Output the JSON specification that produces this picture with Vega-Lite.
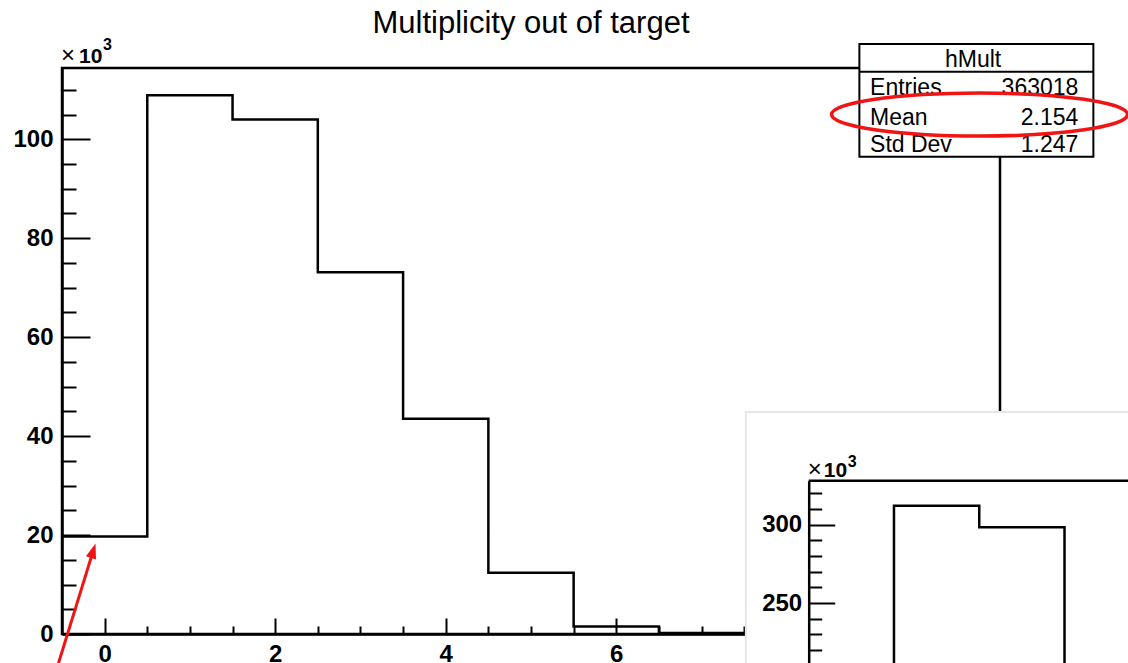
{
  "$schema": "https://vega.github.io/schema/vega-lite/v6.json",
  "width": 938,
  "height": 566,
  "padding": {"left": 62, "top": 68, "right": 128, "bottom": 29},
  "autosize": {"type": "none"},
  "background": "white",
  "title": {"text": "Multiplicity out of target", "font": "Liberation Sans", "fontSize": 31, "fontWeight": "normal", "color": "black", "anchor": "middle", "frame": "group", "offset": -3},
  "config": {"view": {"stroke": "black", "strokeWidth": 2.5}, "font": "Liberation Sans"},
  "datasets": {
    "hMult": [
      {"lo": -0.5, "hi": 0.5, "n": 19700},
      {"lo": 0.5, "hi": 1.5, "n": 108900},
      {"lo": 1.5, "hi": 2.5, "n": 104000},
      {"lo": 2.5, "hi": 3.5, "n": 73100},
      {"lo": 3.5, "hi": 4.5, "n": 43500},
      {"lo": 4.5, "hi": 5.5, "n": 12400},
      {"lo": 5.5, "hi": 6.5, "n": 1500},
      {"lo": 6.5, "hi": 7.5, "n": 200},
      {"lo": 7.5, "hi": 8.5, "n": 20},
      {"lo": 8.5, "hi": 9.5, "n": 2},
      {"lo": 9.5, "hi": 10.5, "n": 0}
    ],
    "hInset": [
      {"lo": -0.5, "hi": 0.5, "n": 56000},
      {"lo": 0.5, "hi": 1.5, "n": 312100},
      {"lo": 1.5, "hi": 2.5, "n": 298300},
      {"lo": 2.5, "hi": 3.5, "n": 208000},
      {"lo": 3.5, "hi": 4.5, "n": 120000},
      {"lo": 4.5, "hi": 5.5, "n": 35000}
    ],
    "stats": [
      {"stat": "Entries", "value": "363018"},
      {"stat": "Mean", "value": "2.154"},
      {"stat": "Std Dev", "value": "1.247"}
    ],
    "exp": [{"times": "×", "base": "10", "power": "3"}]
  },
  "layer": [
    {
      "data": {"name": "hMult"},
      "mark": {"type": "point", "opacity": 0},
      "encoding": {
        "x": {"field": "lo", "type": "quantitative", "scale": {"domain": [-0.5, 10.5], "nice": false, "zero": false},
          "axis": {"orient": "bottom", "title": null, "grid": false, "zindex": 0, "labels": false, "domain": false,
            "values": [0.5, 1, 1.5, 2.5, 3, 3.5, 4.5, 5, 5.5, 6.5, 7, 7.5, 8.5, 9, 9.5],
            "tickSize": -8, "tickColor": "black", "tickWidth": 2}},
        "y": {"field": "n", "type": "quantitative", "scale": {"domain": [0, 114400], "nice": false, "zero": false},
          "axis": {"orient": "left", "title": null, "grid": false, "zindex": 0, "labels": false, "domain": false,
            "values": [5000, 10000, 15000, 25000, 30000, 35000, 45000, 50000, 55000, 65000, 70000, 75000, 85000, 90000, 95000, 105000, 110000],
            "tickSize": -14, "tickColor": "black", "tickWidth": 2}}
      }
    },
    {
      "layer": [
        {
          "data": {"name": "hMult"},
          "transform": [{"fold": ["lo", "hi"], "as": ["side", "edge"]}],
          "mark": {"type": "line", "color": "black", "strokeWidth": 2.5, "strokeJoin": "miter"},
          "encoding": {
            "x": {"field": "edge", "type": "quantitative", "scale": {"domain": [-0.5, 10.5], "nice": false, "zero": false},
              "axis": {"orient": "bottom", "title": null, "grid": false, "zindex": 0,
                "values": [0, 2, 4, 6, 8, 10],
                "labelExpr": "format(datum.value, 'd')",
                "tickSize": -16, "tickColor": "black", "tickWidth": 2, "domainColor": "black", "domainWidth": 2.5,
                "labelFont": "Liberation Sans", "labelFontSize": 24, "labelFontWeight": "bold", "labelColor": "black",
                "labelPadding": 24, "labelFlush": false, "labelOverlap": false}},
            "y": {"field": "n", "type": "quantitative", "scale": {"domain": [0, 114400], "nice": false, "zero": false},
              "axis": {"orient": "left", "title": null, "grid": false, "zindex": 0,
                "values": [0, 20000, 40000, 60000, 80000, 100000],
                "labelExpr": "format(datum.value / 1000, 'd')",
                "tickSize": -28, "tickColor": "black", "tickWidth": 2, "domainColor": "black", "domainWidth": 2.5,
                "labelFont": "Liberation Sans", "labelFontSize": 24, "labelFontWeight": "bold", "labelColor": "black",
                "labelPadding": 37, "labelFlush": false, "labelOverlap": false}},
            "order": [{"field": "edge", "type": "quantitative"}, {"field": "lo", "type": "quantitative"}]
          }
        },
        {
          "data": {"values": [{}]},
          "mark": {"type": "rect", "fill": "white", "stroke": "black", "strokeWidth": 2},
          "encoding": {
            "x": {"datum": 8.851, "type": "quantitative"},
            "x2": {"datum": 11.595},
            "y": {"datum": 119240, "type": "quantitative"},
            "y2": {"datum": 96460}
          }
        },
        {
          "data": {"values": [{}]},
          "mark": {"type": "rule", "stroke": "black", "strokeWidth": 2},
          "encoding": {
            "x": {"datum": 8.851, "type": "quantitative"},
            "x2": {"datum": 11.595},
            "y": {"datum": 113640, "type": "quantitative"}
          }
        },
        {
          "data": {"values": [{"name": "hMult"}]},
          "mark": {"type": "text", "font": "Liberation Sans", "fontSize": 23, "color": "black", "align": "center", "baseline": "alphabetic"},
          "encoding": {
            "x": {"datum": 10.184, "type": "quantitative"},
            "y": {"datum": 114530, "type": "quantitative"},
            "text": {"field": "name"}
          }
        },
        {
          "data": {"name": "stats"},
          "transform": [{"filter": "datum.stat === 'Entries'"}],
          "layer": [
            {"mark": {"type": "text", "font": "Liberation Sans", "fontSize": 23, "color": "black", "align": "left", "baseline": "alphabetic"},
             "encoding": {"x": {"datum": 8.976, "type": "quantitative"}, "y": {"datum": 108850, "type": "quantitative"}, "text": {"field": "stat"}}},
            {"mark": {"type": "text", "font": "Liberation Sans", "fontSize": 23, "color": "black", "align": "right", "baseline": "alphabetic"},
             "encoding": {"x": {"datum": 11.419, "type": "quantitative"}, "y": {"datum": 108850, "type": "quantitative"}, "text": {"field": "value"}}}
          ]
        },
        {
          "data": {"name": "stats"},
          "transform": [{"filter": "datum.stat === 'Mean'"}],
          "layer": [
            {"mark": {"type": "text", "font": "Liberation Sans", "fontSize": 23, "color": "black", "align": "left", "baseline": "alphabetic"},
             "encoding": {"x": {"datum": 8.976, "type": "quantitative"}, "y": {"datum": 102900, "type": "quantitative"}, "text": {"field": "stat"}}},
            {"mark": {"type": "text", "font": "Liberation Sans", "fontSize": 23, "color": "black", "align": "right", "baseline": "alphabetic"},
             "encoding": {"x": {"datum": 11.419, "type": "quantitative"}, "y": {"datum": 102900, "type": "quantitative"}, "text": {"field": "value"}}}
          ]
        },
        {
          "data": {"name": "stats"},
          "transform": [{"filter": "datum.stat === 'Std Dev'"}],
          "layer": [
            {"mark": {"type": "text", "font": "Liberation Sans", "fontSize": 23, "color": "black", "align": "left", "baseline": "alphabetic"},
             "encoding": {"x": {"datum": 8.976, "type": "quantitative"}, "y": {"datum": 97500, "type": "quantitative"}, "text": {"field": "stat"}}},
            {"mark": {"type": "text", "font": "Liberation Sans", "fontSize": 23, "color": "black", "align": "right", "baseline": "alphabetic"},
             "encoding": {"x": {"datum": 11.419, "type": "quantitative"}, "y": {"datum": 97500, "type": "quantitative"}, "text": {"field": "value"}}}
          ]
        },
        {
          "data": {"name": "exp"},
          "encoding": {
            "x": {"datum": -0.5, "type": "quantitative"},
            "y": {"datum": 114400, "type": "quantitative"}
          },
          "layer": [
            {"mark": {"type": "text", "font": "Liberation Sans", "fontSize": 24, "fontWeight": "normal", "color": "black", "align": "left", "baseline": "alphabetic", "dy": -5, "dx": -1},
             "encoding": {"text": {"field": "times"}}},
            {"mark": {"type": "text", "font": "Liberation Sans", "fontSize": 21, "fontWeight": "bold", "color": "black", "align": "left", "baseline": "alphabetic", "dy": -5, "dx": 17},
             "encoding": {"text": {"field": "base"}}},
            {"mark": {"type": "text", "font": "Liberation Sans", "fontSize": 16, "fontWeight": "bold", "color": "black", "align": "left", "baseline": "alphabetic", "dy": -18, "dx": 41},
             "encoding": {"text": {"field": "power"}}}
          ]
        },
        {
          "data": {"values": [{}]},
          "mark": {"type": "point", "shape": "M-1,0C-1,-0.0802,-0.5523,-0.1453,0,-0.1453C0.5523,-0.1453,1,-0.0802,1,0C1,0.0802,0.5523,0.1453,0,0.1453C-0.5523,0.1453,-1,0.0802,-1,0Z", "size": 87616, "filled": false, "stroke": "#f01414", "strokeWidth": 3.5, "opacity": 1},
          "encoding": {
            "x": {"datum": 10.26, "type": "quantitative"},
            "y": {"datum": 104990, "type": "quantitative"}
          }
        },
        {
          "data": {"values": [{}]},
          "mark": {"type": "rule", "stroke": "#f01414", "strokeWidth": 3},
          "encoding": {
            "x": {"datum": -0.584, "type": "quantitative"},
            "y": {"datum": -8280, "type": "quantitative"},
            "x2": {"datum": -0.135},
            "y2": {"datum": 16750}
          }
        },
        {
          "data": {"values": [{}]},
          "mark": {"type": "point", "shape": "M0,0L-0.35,1L0.35,1Z", "size": 900, "angle": 17.6, "filled": true, "fill": "#f01414", "strokeWidth": 0, "opacity": 1},
          "encoding": {
            "x": {"datum": -0.107, "type": "quantitative"},
            "y": {"datum": 18290, "type": "quantitative"}
          }
        },
        {
          "data": {"values": [{}]},
          "mark": {"type": "rect", "fill": "white", "stroke": "#e6e6e6", "strokeWidth": 2},
          "encoding": {
            "x": {"datum": 7.52, "type": "quantitative"},
            "x2": {"datum": 12.6},
            "y": {"datum": 44870, "type": "quantitative"},
            "y2": {"datum": -12000}
          }
        }
      ]
    },
    {
      "data": {"name": "hInset"},
      "mark": {"type": "point", "opacity": 0},
      "encoding": {
        "x": {"field": "lo", "type": "quantitative", "scale": {"domain": [-0.5, 10.5], "range": [746.7, 1684.7], "nice": false, "zero": false}, "axis": null},
        "y": {"field": "n", "type": "quantitative", "scale": {"domain": [200000, 328100], "range": [613.3, 412.7], "nice": false, "zero": false},
          "axis": {"orient": "left", "offset": -746.7, "title": null, "grid": false, "zindex": 1, "labels": false, "domain": false,
            "values": [210000, 220000, 230000, 240000, 260000, 270000, 280000, 290000, 310000, 320000],
            "tickSize": -13, "tickColor": "black", "tickWidth": 2}}
      }
    },
    {
      "layer": [
        {
          "data": {"name": "hInset"},
          "transform": [{"fold": ["lo", "hi"], "as": ["side", "edge"]}],
          "mark": {"type": "line", "color": "black", "strokeWidth": 2.5, "strokeJoin": "miter"},
          "encoding": {
            "x": {"field": "edge", "type": "quantitative", "scale": {"domain": [-0.5, 10.5], "range": [746.7, 1684.7], "nice": false, "zero": false}, "axis": null},
            "y": {"field": "n", "type": "quantitative", "scale": {"domain": [200000, 328100], "range": [613.3, 412.7], "nice": false, "zero": false},
              "axis": {"orient": "left", "offset": -746.7, "title": null, "grid": false, "zindex": 1,
                "values": [250000, 300000],
                "labelExpr": "format(datum.value / 1000, 'd')",
                "tickSize": -26, "tickColor": "black", "tickWidth": 2, "domainColor": "black", "domainWidth": 2.5,
                "labelFont": "Liberation Sans", "labelFontSize": 24, "labelFontWeight": "bold", "labelColor": "black",
                "labelPadding": 33, "labelFlush": false, "labelOverlap": false}},
            "order": [{"field": "edge", "type": "quantitative"}, {"field": "lo", "type": "quantitative"}]
          }
        },
        {
          "data": {"values": [{}]},
          "mark": {"type": "rule", "stroke": "black", "strokeWidth": 2.5},
          "encoding": {
            "x": {"datum": -0.5, "type": "quantitative", "axis": null},
            "x2": {"datum": 10.5},
            "y": {"datum": 328100, "type": "quantitative"}
          }
        },
        {
          "data": {"name": "exp"},
          "encoding": {
            "x": {"datum": -0.5, "type": "quantitative", "axis": null},
            "y": {"datum": 328100, "type": "quantitative"}
          },
          "layer": [
            {"mark": {"type": "text", "font": "Liberation Sans", "fontSize": 24, "fontWeight": "normal", "color": "black", "align": "left", "baseline": "alphabetic", "dy": -4, "dx": -1},
             "encoding": {"text": {"field": "times"}}},
            {"mark": {"type": "text", "font": "Liberation Sans", "fontSize": 21, "fontWeight": "bold", "color": "black", "align": "left", "baseline": "alphabetic", "dy": -4, "dx": 15},
             "encoding": {"text": {"field": "base"}}},
            {"mark": {"type": "text", "font": "Liberation Sans", "fontSize": 16, "fontWeight": "bold", "color": "black", "align": "left", "baseline": "alphabetic", "dy": -14, "dx": 39},
             "encoding": {"text": {"field": "power"}}}
          ]
        }
      ]
    }
  ],
  "resolve": {"scale": {"x": "independent", "y": "independent"}}
}
